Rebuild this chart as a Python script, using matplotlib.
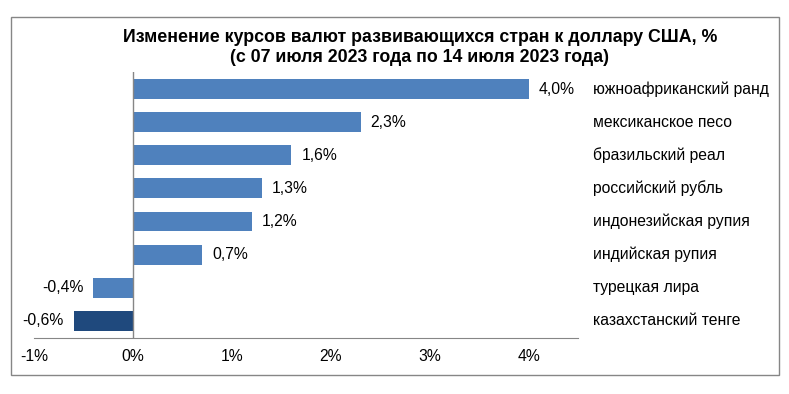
import matplotlib.pyplot as plt
from matplotlib.patches import Rectangle

currencies = ['южноафриканский ранд', 'мексиканское песо', 'бразильский реал',
              'российский рубль', 'индонезийская рупия', 'индийская рупия',
              'турецкая лира', 'казахстанский тенге']
changes = [4.0, 2.3, 1.6, 1.3, 1.2, 0.7, -0.4, -0.6]
xticks = [-1, 0, 1, 2, 3, 4]

plt.rcParams['font.family'] = ['Liberation Sans', 'DejaVu Sans']
fs = 11.3

fig = plt.figure(figsize=(7.89, 3.94), dpi=100)
ax = fig.add_axes([0.0431, 0.1434, 0.69, 0.6726])

colors = ['#4F81BD'] * (len(changes) - 1) + ['#1F497D']
ypos = list(range(len(changes)))
ax.barh(ypos, changes, height=0.6, color=colors)
ax.set_ylim(len(changes) - 0.5, -0.5)
ax.set_xlim(-1, 4.5)

for y, v, name in zip(ypos, changes, currencies):
    lbl = ('%.1f%%' % v).replace('.', ',')
    if v >= 0:
        ax.text(v + 0.1, y, lbl, va='center', ha='left', fontsize=fs)
    else:
        ax.text(v - 0.1, y, lbl, va='center', ha='right', fontsize=fs)
    ax.text(4.65, y, name, va='center', ha='left', fontsize=fs, clip_on=False)

ax.set_xticks(xticks)
ax.set_xticklabels(['%d%%' % t for t in xticks], fontsize=fs)
ax.tick_params(axis='x', length=0, pad=8)
ax.set_yticks([])
for s in ['top', 'right', 'left']:
    ax.spines[s].set_visible(False)
ax.spines['bottom'].set_color('#868686')
ax.axvline(0, color='#868686', lw=1)

fig.text(0.532, 1 - 38 / 394, 'Изменение курсов валют развивающихся стран к доллару США, %',
         ha='center', va='center', fontsize=12.8, fontweight='bold')
fig.text(0.532, 1 - 58 / 394, '(с 07 июля 2023 года по 14 июля 2023 года)',
         ha='center', va='center', fontsize=12.8, fontweight='bold')

fig.patches.append(Rectangle((11 / 789, 1 - 375 / 394), 768 / 789, 358 / 394,
                             transform=fig.transFigure, fill=False,
                             edgecolor='#868686', lw=1))

fig.savefig('out.png', dpi=100)
